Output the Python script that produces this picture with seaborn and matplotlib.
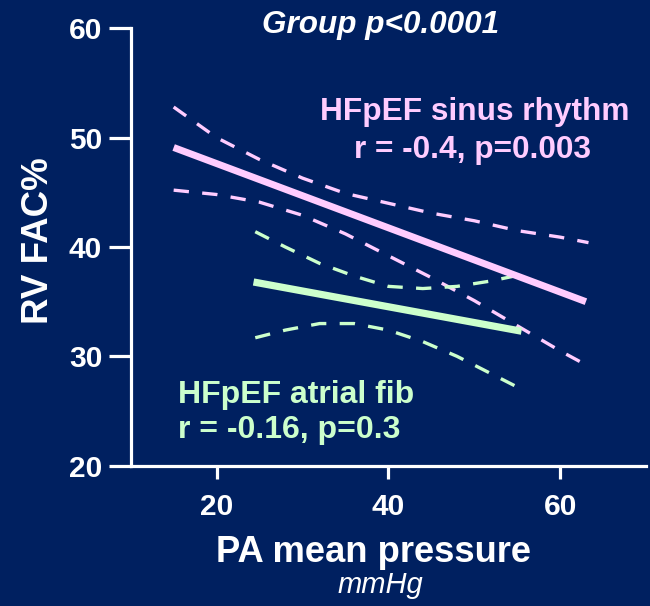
import matplotlib
matplotlib.use("Agg")
import matplotlib.pyplot as plt
import seaborn as sns
import pandas as pd

# ---- data ----
sinus_fit_x = [15, 63]
sinus_fit_y = [49.1, 35.0]
sinus_ci_x = [15, 20, 25, 30, 35, 40, 45, 50, 55, 60, 63.3]
sinus_ci_upper = [52.8, 50.0, 48.0, 46.3, 44.9, 44.0, 43.1, 42.4, 41.5, 40.9, 40.4]
sinus_ci_lower = [45.2, 44.8, 44.1, 42.9, 41.2, 39.2, 37.2, 35.1, 32.8, 30.5, 29.1]

af_fit_x = [24.3, 55.5]
af_fit_y = [36.8, 32.3]
af_ci_x = [24.5, 28, 32, 36, 40, 44, 48, 52, 55]
af_ci_upper = [41.4, 40.0, 38.5, 37.35, 36.4, 36.2, 36.4, 36.9, 37.4]
af_ci_lower = [31.7, 32.4, 33.0, 33.0, 32.4, 31.35, 30.0, 28.4, 27.2]

x_ticks = [20, 40, 60]
y_ticks = [20, 30, 40, 50, 60]

BG = "#002060"
PINK = "#FFCCFF"
GREEN = "#CCFFCC"
WHITE = "#FFFFFF"

sns.set_style("ticks")
plt.rcParams["font.family"] = ["Liberation Sans", "DejaVu Sans"]
plt.rcParams["font.weight"] = "bold"

fig = plt.figure(figsize=(6.5, 6.06), dpi=100, facecolor=BG)
ax = fig.add_axes([0.2011, 0.2315, 0.7928, 0.7218])
ax.set_facecolor(BG)


def draw(x, y, color, lw, dashed=False):
    df = pd.DataFrame({"x": x, "y": y})
    sns.lineplot(data=df, x="x", y="y", ax=ax, color=color, lw=lw,
                 estimator=None, errorbar=None, sort=False)
    line = ax.lines[-1]
    if dashed:
        line.set_dashes((4.6, 4.0))
    line.set_solid_capstyle("butt")
    line.set_dash_capstyle("butt")


draw(sinus_ci_x, sinus_ci_upper, PINK, 2.4, dashed=True)
draw(sinus_ci_x, sinus_ci_lower, PINK, 2.4, dashed=True)
draw(af_ci_x, af_ci_upper, GREEN, 2.4, dashed=True)
draw(af_ci_x, af_ci_lower, GREEN, 2.4, dashed=True)
draw(sinus_fit_x, sinus_fit_y, PINK, 5.0)
draw(af_fit_x, af_fit_y, GREEN, 5.2)

ax.set_xlim(10, 70)
ax.set_ylim(20, 60)
ax.set_xticks(x_ticks)
ax.set_yticks(y_ticks)
ax.set_xticklabels([str(v) for v in x_ticks])
ax.set_yticklabels([str(v) for v in y_ticks])
ax.set_xlabel("")
ax.set_ylabel("")

for s in ["top", "right"]:
    ax.spines[s].set_visible(False)
for s in ["left", "bottom"]:
    ax.spines[s].set_color(WHITE)
    ax.spines[s].set_linewidth(2.3)

ax.tick_params(axis="x", which="major", bottom=True, direction="out", length=9.5,
               width=2.3, color=WHITE, labelcolor=WHITE, labelsize=21.5, pad=10.5)
ax.tick_params(axis="y", which="major", left=True, direction="out", length=15.5,
               width=2.3, color=WHITE, labelcolor=WHITE, labelsize=21.5, pad=5)
for lab in ax.get_xticklabels() + ax.get_yticklabels():
    lab.set_fontweight("bold")

# texts
fig.text(381 / 650, 1 - 33 / 606, "Group p<0.0001", color=WHITE, fontsize=22.7,
         fontweight="bold", fontstyle="italic", ha="center", va="baseline")
fig.text(475 / 650, 1 - 120 / 606, "HFpEF sinus rhythm", color=PINK, fontsize=22.8,
         fontweight="bold", ha="center", va="baseline")
fig.text(472 / 650, 1 - 158 / 606, "r = -0.4, p=0.003", color=PINK, fontsize=22.8,
         fontweight="bold", ha="center", va="baseline")
fig.text(178 / 650, 1 - 403 / 606, "HFpEF atrial fib", color=GREEN, fontsize=23,
         fontweight="bold", ha="left", va="baseline")
fig.text(178 / 650, 1 - 438 / 606, "r = -0.16, p=0.3", color=GREEN, fontsize=23,
         fontweight="bold", ha="left", va="baseline")
fig.text(373 / 650, 1 - 562 / 606, "PA mean pressure", color=WHITE, fontsize=26.2,
         fontweight="bold", ha="center", va="baseline")
fig.text(380 / 650, 1 - 593 / 606, "mmHg", color=WHITE, fontsize=21,
         fontweight="normal", fontstyle="italic", ha="center", va="baseline")
fig.text(39 / 650, 1 - 241 / 606, "RV FAC%", color=WHITE, fontsize=26.5,
         fontweight="bold", rotation=90, ha="center", va="center")

fig.savefig("out.png", dpi=100, facecolor=BG)
